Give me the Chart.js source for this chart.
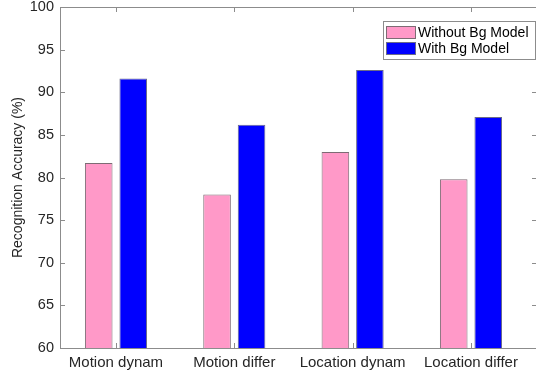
<!DOCTYPE html>
<html>
<head>
<meta charset="utf-8">
<script src="https://cdn.jsdelivr.net/npm/chart.js@4/dist/chart.umd.min.js"></script>
<style>
  html, body { margin: 0; padding: 0; background: #fff; overflow: hidden; }
  #wrap { position: relative; width: 540px; height: 374px; }
</style>
</head>
<body>
<div id="wrap"><canvas id="accChart" width="540" height="374"></canvas></div>
<script>
// Chart data
const categories = ['Motion dynam', 'Motion differ', 'Location dynam', 'Location differ'];
const withoutBg = [81.7, 78.0, 83.0, 79.8];
const withBg = [91.6, 86.2, 92.6, 87.1];
const yTicks = [60, 65, 70, 75, 80, 85, 90, 95, 100];

const FONT = '"Liberation Sans", Arial, Helvetica, sans-serif';
const AXIS_COLOR = '#8c8c8c';
const TEXT_COLOR = '#262626';

// bars sit at x = 1..4 on a linear axis (MATLAB style)
const toPoints = vals => vals.map((v, i) => ({ x: i + 1, y: v }));

// axis box with inward ticks, like MATLAB "box on"
const boxPlugin = {
  id: 'box',
  afterDatasetsDraw(chart) {
    const { ctx, chartArea: a, scales } = chart;
    ctx.save();
    ctx.strokeStyle = AXIS_COLOR;
    ctx.lineWidth = 1;
    ctx.strokeRect(a.left + 0.5, a.top + 0.5, a.right - a.left, a.bottom - a.top);
    ctx.beginPath();
    yTicks.forEach(t => {
      const y = Math.round(scales.y.getPixelForValue(t)) + 0.5;
      ctx.moveTo(a.left, y); ctx.lineTo(a.left + 5, y);
      ctx.moveTo(a.right, y); ctx.lineTo(a.right - 5, y);
    });
    categories.forEach((c, i) => {
      const x = Math.round(scales.x.getPixelForValue(i + 1)) + 0.5;
      ctx.moveTo(x, a.bottom); ctx.lineTo(x, a.bottom - 5);
      ctx.moveTo(x, a.top); ctx.lineTo(x, a.top + 5);
    });
    ctx.stroke();
    ctx.restore();
  }
};

// legend box in the upper right corner
const legendPlugin = {
  id: 'boxLegend',
  afterDraw(chart) {
    const { ctx } = chart;
    const left = 383, top = 21, w = 152, h = 38;
    ctx.save();
    ctx.fillStyle = '#fff';
    ctx.fillRect(left, top, w, h);
    ctx.strokeStyle = AXIS_COLOR;
    ctx.lineWidth = 1;
    ctx.strokeRect(left + 0.5, top + 0.5, w, h);
    ctx.font = '14px ' + FONT;
    ctx.textBaseline = 'middle';
    chart.data.datasets.forEach((ds, i) => {
      const y = top + 5 + i * 16;
      ctx.fillStyle = ds.backgroundColor;
      ctx.fillRect(left + 3.5, y + 0.5, 29, 12);
      ctx.strokeStyle = ds.borderColor;
      ctx.strokeRect(left + 3.5, y + 0.5, 29, 12);
      ctx.fillStyle = '#000';
      ctx.fillText(ds.label, left + 35, y + 7);
    });
    ctx.restore();
  }
};

// y axis title
const yTitlePlugin = {
  id: 'yTitle',
  afterDraw(chart) {
    const { ctx, chartArea: a } = chart;
    ctx.save();
    ctx.translate(18, (a.top + a.bottom) / 2);
    ctx.rotate(-Math.PI / 2);
    ctx.font = '14px ' + FONT;
    ctx.fillStyle = TEXT_COLOR;
    ctx.textAlign = 'center';
    ctx.textBaseline = 'middle';
    ctx.fillText('Recognition Accuracy (%)', 0, 0);
    ctx.restore();
  }
};

const accChart = new Chart(document.getElementById('accChart'), {
  type: 'bar',
  data: {
    datasets: [
      {
        label: 'Without Bg Model',
        data: toPoints(withoutBg),
        backgroundColor: '#ff99c8',
        borderColor: '#7d6b74',
        borderWidth: 1
      },
      {
        label: 'With Bg Model',
        data: toPoints(withBg),
        backgroundColor: '#0000ff',
        borderColor: '#6b6b8a',
        borderWidth: 1
      }
    ]
  },
  options: {
    responsive: false,
    animation: false,
    devicePixelRatio: 1,
    layout: { padding: { top: 7, right: 3, left: 0, bottom: 0 } },
    plugins: {
      legend: { display: false },
      tooltip: { enabled: false }
    },
    datasets: {
      bar: { categoryPercentage: 0.583, barPercentage: 0.8 }
    },
    scales: {
      x: {
        type: 'linear',
        min: 0.527,
        max: 4.558,
        offset: false,
        bounds: 'data',
        grid: { display: false, drawTicks: false, offset: false },
        border: { display: false },
        afterBuildTicks: s => { s.ticks = categories.map((c, i) => ({ value: i + 1 })); },
        afterFit: s => { s.height = 26; s.paddingLeft = 0; s.paddingRight = 0; },
        ticks: {
          autoSkip: false,
          maxRotation: 0,
          padding: 6,
          color: TEXT_COLOR,
          font: { family: FONT, size: 15 },
          callback: v => categories[Math.round(v) - 1] || ''
        }
      },
      y: {
        min: 60,
        max: 100,
        grid: { display: false, drawTicks: false },
        border: { display: false },
        afterBuildTicks: s => { s.ticks = yTicks.map(v => ({ value: v })); },
        afterFit: s => { s.width = 60; s.paddingTop = 0; s.paddingBottom = 0; },
        ticks: {
          padding: 6,
          color: TEXT_COLOR,
          font: { family: FONT, size: 14.5 }
        }
      }
    }
  },
  plugins: [boxPlugin, legendPlugin, yTitlePlugin]
});
</script>
</body>
</html>
